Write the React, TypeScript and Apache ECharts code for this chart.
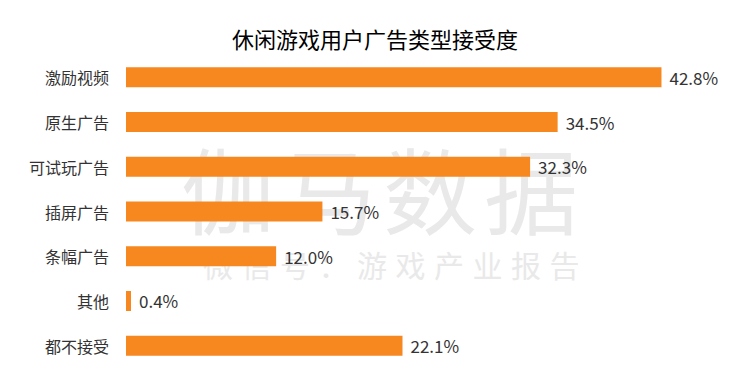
import React, { useEffect, useRef } from "react";
import * as echarts from "echarts";

const title = "休闲游戏用户广告类型接受度";
const categories = ["激励视频", "原生广告", "可试玩广告", "插屏广告", "条幅广告", "其他", "都不接受"];
const values = [42.8, 34.5, 32.3, 15.7, 12.0, 0.4, 22.1];
const watermarkMain = ["伽", "马", "数", "据"];
const watermarkSub = ["微", "信", "号", "：", "游", "戏", "产", "业", "报", "告"];

export default function App() {
  const ref = useRef<HTMLDivElement>(null);
  useEffect(() => {
    if (!ref.current) return;
    const chart = echarts.init(ref.current, null, { renderer: "svg" });
    const font = "'Noto Sans CJK SC', 'Noto Sans', sans-serif";
    const graphic: any[] = [];
    watermarkMain.forEach((ch, i) => {
      graphic.push({
        type: "text",
        z: -10,
        x: 228 + i * 101,
        y: 187,
        style: {
          text: ch,
          fontSize: 94,
          fontFamily: font,
          fill: "#e9e9e9",
          align: "center",
          verticalAlign: "middle",
        },
      });
    });
    watermarkSub.forEach((ch, i) => {
      graphic.push({
        type: "text",
        z: -10,
        x: 218 + i * 38.5,
        y: 264,
        style: {
          text: ch,
          fontSize: 30,
          fontFamily: font,
          fill: "#e9e9e9",
          align: "center",
          verticalAlign: "middle",
        },
      });
    });
    chart.setOption({
      animation: false,
      backgroundColor: "#ffffff",
      title: {
        text: title,
        left: "center",
        top: 22,
        textStyle: { fontSize: 22, fontWeight: "normal", color: "#000", fontFamily: font },
      },
      graphic,
      grid: { left: 126, right: 61, top: 55, bottom: 9, containLabel: false },
      xAxis: { type: "value", min: 0, max: 45, show: false },
      yAxis: {
        type: "category",
        data: categories,
        inverse: true,
        axisLine: { show: false },
        axisTick: { show: false },
        splitLine: { show: false },
        axisLabel: { fontSize: 16, color: "#333", margin: 17, fontFamily: font },
      },
      series: [
        {
          type: "bar",
          data: values,
          barWidth: 20,
          itemStyle: { color: "#F7871F" },
          z: 2,
          label: {
            show: true,
            position: "right",
            distance: 8,
            formatter: (p: any) => p.value.toFixed(1) + "%",
            fontSize: 17,
            color: "#333",
            fontFamily: font,
          },
        },
      ],
    });
    return () => chart.dispose();
  }, []);
  return <div ref={ref} style={{ position: "fixed", left: 0, top: 0, width: 750, height: 377 }} />;
}
